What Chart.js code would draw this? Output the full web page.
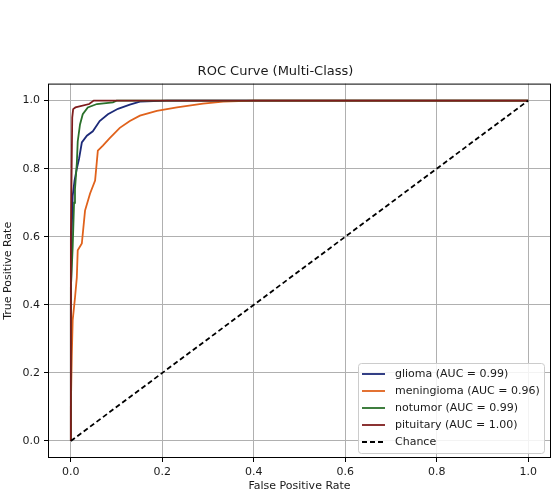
<!DOCTYPE html>
<html>
<head>
<meta charset="utf-8">
<script src="https://cdn.jsdelivr.net/npm/chart.js@4.4.1/dist/chart.umd.min.js"></script>
<style>
  html, body { margin: 0; padding: 0; background: #fff; }
  #wrap { width: 560px; height: 499px; }
</style>
</head>
<body>
<div id="wrap"><canvas id="roc" width="560" height="499"></canvas></div>
<script>
// ROC points
const gliomaFpr = [0, 0, 0.002, 0.004, 0.008, 0.013, 0.018, 0.024, 0.035, 0.048, 0.063, 0.081, 0.103, 0.129, 0.151, 0.21, 1];
const gliomaTpr = [0, 0.40, 0.62, 0.72, 0.765, 0.80, 0.83, 0.877, 0.897, 0.91, 0.94, 0.96, 0.976, 0.988, 0.997, 1, 1];

const meningFpr = [0, 0, 0.002, 0.004, 0.009, 0.013, 0.015, 0.024, 0.031, 0.042, 0.053, 0.059, 0.07, 0.085, 0.107, 0.129, 0.151, 0.188, 0.232, 0.289, 0.333, 0.40, 1];
const meningTpr = [0, 0.10, 0.25, 0.355, 0.42, 0.48, 0.56, 0.58, 0.677, 0.727, 0.765, 0.853, 0.868, 0.89, 0.92, 0.94, 0.956, 0.97, 0.98, 0.991, 0.997, 1, 1];

const notumorFpr = [0, 0, 0.004, 0.007, 0.009, 0.013, 0.015, 0.02, 0.026, 0.037, 0.057, 0.092, 0.10, 1];
const notumorTpr = [0, 0.45, 0.57, 0.70, 0.74, 0.815, 0.88, 0.93, 0.96, 0.98, 0.99, 0.995, 1, 1];

const pituitaryFpr = [0, 0, 0.003, 0.005, 0.01, 0.04, 0.05, 1];
const pituitaryTpr = [0, 0.60, 0.95, 0.975, 0.98, 0.99, 1, 1];

const chanceX = [0, 1];
const chanceY = [0, 1];

const labels = ['glioma (AUC = 0.99)', 'meningioma (AUC = 0.96)', 'notumor (AUC = 0.99)', 'pituitary (AUC = 1.00)', 'Chance'];
const tickVals = [0, 0.2, 0.4, 0.6, 0.8, 1.0];

function pts(xs, ys) { return xs.map((x, i) => ({ x: x, y: ys[i] })); }

const colors = ['#1c2a78', '#e0621c', '#2a702a', '#7e1c1c', '#000000'];

function series(i, xs, ys, dash) {
  return {
    label: labels[i],
    data: pts(xs, ys),
    borderColor: colors[i],
    backgroundColor: colors[i],
    borderWidth: 1.8,
    borderDash: dash || [],
    pointRadius: 0,
    tension: 0,
    fill: false,
    order: 4 - i   // later series on top, like matplotlib
  };
}

// frame around plot + matplotlib-like legend box
const framePlugin = {
  id: 'frame',
  afterDatasetsDraw(chart) {
    const a = chart.chartArea, c = chart.ctx;
    c.save();
    c.strokeStyle = '#000';
    c.lineWidth = 1;
    c.strokeRect(a.left + 0.5, a.top + 0.5, a.right - a.left - 1, a.bottom - a.top - 1);

    const x0 = 358, y0 = 363, w = 186, h = 90;
    c.fillStyle = 'rgba(255,255,255,0.85)';
    c.strokeStyle = '#cccccc';
    c.beginPath();
    c.roundRect(x0 + 0.5, y0 + 0.5, w, h, 3);
    c.fill();
    c.stroke();
    c.font = '11px "DejaVu Sans"';
    c.textBaseline = 'middle';
    chart.data.datasets.forEach((ds, i) => {
      const y = y0 + 11 + i * 17;
      c.strokeStyle = ds.borderColor;
      c.lineWidth = 1.8;
      c.setLineDash(ds.borderDash.length ? [5, 3] : []);
      c.beginPath();
      c.moveTo(x0 + 4, y);
      c.lineTo(x0 + 27, y);
      c.stroke();
      c.setLineDash([]);
      c.fillStyle = '#1a1a1a';
      c.fillText(ds.label, x0 + 37, y);
    });
    c.restore();
  }
};

const fixTicks = function (scale) { scale.ticks = tickVals.map(v => ({ value: v })); };

new Chart(document.getElementById('roc').getContext('2d'), {
  type: 'line',
  data: {
    datasets: [
      series(0, gliomaFpr, gliomaTpr),
      series(1, meningFpr, meningTpr),
      series(2, notumorFpr, notumorTpr),
      series(3, pituitaryFpr, pituitaryTpr),
      series(4, chanceX, chanceY, [5, 3])
    ]
  },
  plugins: [framePlugin],
  options: {
    responsive: false,
    animation: false,
    layout: { padding: { top: 64, right: 9, left: 0, bottom: 0 } },
    scales: {
      x: {
        type: 'linear',
        min: -0.05,
        max: 1.05,
        afterBuildTicks: fixTicks,
        afterFit: function (s) { s.height = 41; },
        grid: { color: '#b0b0b0', lineWidth: 1, tickLength: 4, tickColor: '#000' },
        border: { display: false },
        ticks: { color: '#1a1a1a', font: { family: 'DejaVu Sans', size: 11 }, padding: 4, maxRotation: 0,
          callback: v => v.toFixed(1) },
        title: { display: true, text: 'False Positive Rate', color: '#1a1a1a',
          font: { family: 'DejaVu Sans', size: 11 }, padding: { top: 2, bottom: 6 } }
      },
      y: {
        type: 'linear',
        min: -0.05,
        max: 1.05,
        afterBuildTicks: fixTicks,
        afterFit: function (s) { s.width = 48; },
        grid: { color: '#b0b0b0', lineWidth: 1, tickLength: 4, tickColor: '#000' },
        border: { display: false },
        ticks: { color: '#1a1a1a', font: { family: 'DejaVu Sans', size: 11 }, padding: 4,
          callback: v => v.toFixed(1) },
        title: { display: true, text: 'True Positive Rate', color: '#1a1a1a',
          font: { family: 'DejaVu Sans', size: 11 }, padding: { top: 2, bottom: 2 } }
      }
    },
    plugins: {
      legend: { display: false },
      tooltip: { enabled: false },
      title: {
        display: true,
        text: 'ROC Curve (Multi-Class)',
        color: '#1a1a1a',
        font: { family: 'DejaVu Sans', size: 13, weight: 'normal' },
        padding: { top: 0, bottom: 4 }
      }
    }
  }
});
</script>
</body>
</html>
